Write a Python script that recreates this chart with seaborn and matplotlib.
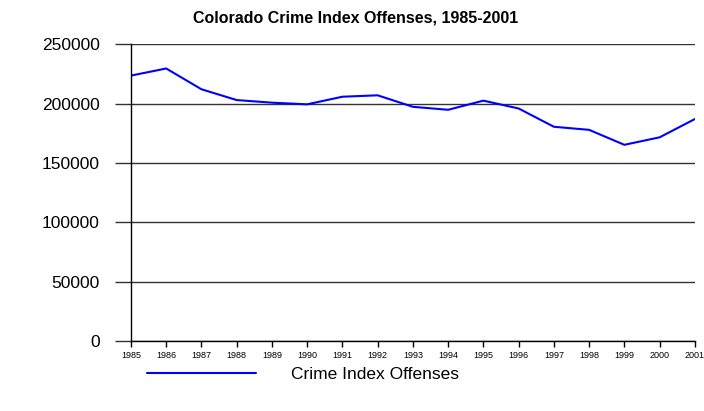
import numpy as np
import pandas as pd
import matplotlib.pyplot as plt
import seaborn as sns

# values
years = [1985, 1986, 1987, 1988, 1989, 1990, 1991, 1992, 1993,
         1994, 1995, 1996, 1997, 1998, 1999, 2000, 2001]
offenses = [223700, 229700, 212200, 203100, 200900, 199500, 205900, 207100, 197400,
            194900, 202600, 196000, 180600, 178000, 165400, 171700, 187100]
y_ticks = [0, 50000, 100000, 150000, 200000, 250000]

d = pd.DataFrame({'Year': years, 'Crime Index Offenses': offenses})

sns.set_style('white')
plt.rcParams['font.family'] = ['Liberation Sans', 'DejaVu Sans']
plt.rcParams['text.color'] = 'black'
plt.rcParams['xtick.color'] = 'black'
plt.rcParams['ytick.color'] = 'black'

fig = plt.figure(figsize=(7.04, 4.11), dpi=100)
ax = fig.add_axes([0.186, 0.170, 0.801, 0.722])

sns.lineplot(data=d, x='Year', y='Crime Index Offenses', color='#0000ff',
             linewidth=1.5, label='Crime Index Offenses', ax=ax, legend=False)

ax.set_xlim(1985, 2001)
ax.set_ylim(0, 250000)
ax.set_xticks(years)
ax.set_xticklabels([str(y) for y in years], fontsize=6.5)
ax.set_yticks(y_ticks)
ax.set_yticklabels([str(v) for v in y_ticks], fontsize=12.5)

# gridlines plus left-sticking ticks
ax.grid(axis='y', color='#333333', linewidth=1)
ax.grid(axis='x', visible=False)
ax.tick_params(axis='y', length=11.5, width=1, color='#333333', pad=11, left=True,
               labelcolor='black')
ax.tick_params(axis='x', length=4, width=1, color='black', pad=3, bottom=True,
               direction='out', labelcolor='black')

for s in ['top', 'right']:
    ax.spines[s].set_visible(False)
ax.spines['left'].set_color('black')
ax.spines['bottom'].set_color('black')
ax.spines['left'].set_linewidth(1)
ax.spines['bottom'].set_linewidth(1)

ax.set_xlabel('')
ax.set_ylabel('')

fig.suptitle('Colorado Crime Index Offenses, 1985-2001', x=0.505, y=0.975,
             fontsize=11.5, fontweight='bold', color='black')

handles, labels = ax.get_lines(), ['Crime Index Offenses']
fig.legend(handles[:1], labels, loc='center', bbox_to_anchor=(0.43, 0.088),
           frameon=False, fontsize=12.5, handlelength=6.3, handletextpad=2.0,
           labelcolor='black')

fig.savefig('out.png', dpi=100)
